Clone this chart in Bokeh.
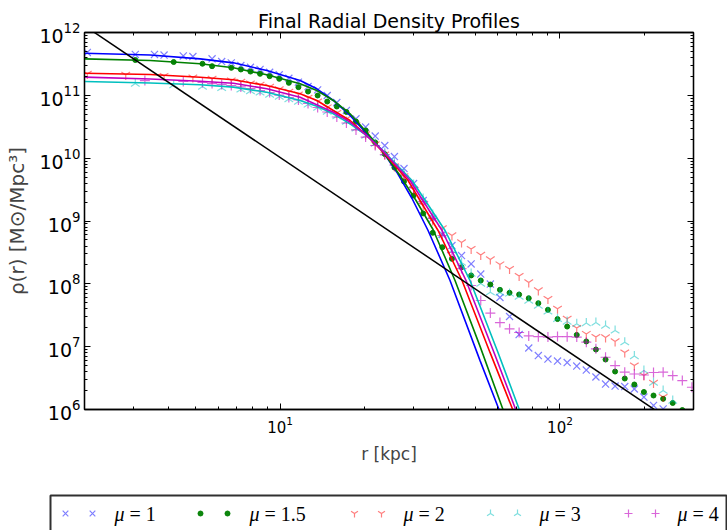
import math
from bokeh.plotting import figure
from bokeh.models import LogAxis, FixedTicker, Range1d
from bokeh.layouts import column
from bokeh.embed import file_html
from bokeh.resources import INLINE
from bokeh.core.properties import value

# ---------------- data ----------------
R_BINS = [2.047, 2.215, 2.397, 2.594, 2.808, 3.038, 3.287, 3.557, 3.849, 4.166,
          4.508, 4.879, 5.279, 5.713, 6.183, 6.691, 7.239, 7.834, 8.478, 9.175,
          9.929, 10.745, 11.627, 12.583, 13.617, 14.736, 15.945, 17.256, 18.67, 20.21,
          21.87, 23.66, 25.61, 27.71, 29.99, 32.45, 35.11, 37.99, 41.11, 44.49,
          48.15, 52.11, 56.39, 61.02, 66.04, 71.46, 77.34, 83.69, 90.57, 98.0,
          106.1, 114.8, 124.2, 134.4, 145.5, 157.4, 170.4, 184.4, 199.5, 215.9,
          233.7, 252.9, 273.6, 296.1]

RHO_MU1 = [4.81e11, None, None, None, None, 4.47e11, None, 4.47e11, 4.38e11, None,
           4.23e11, 4.15e11, None, 3.81e11, 3.45e11, 3.29e11, 2.98e11, 2.80e11, 2.58e11, 2.33e11,
           2.12e11, 1.87e11, 1.62e11, 1.38e11, 1.22e11, 9.94e10, 7.69e10, 5.74e10, 4.23e10, 3.13e10,
           2.25e10, 1.59e10, 1.06e10, 6.85e9, 3.95e9, 2.12e9, 1.10e9, 6.10e8, 4.07e8, 2.82e8,
           2.07e8, 1.43e8, 9.93e7, 6.06e7, 3.02e7, 1.56e7, 9.52e6, 7.23e6, 6.36e6, 5.91e6,
           5.59e6, 4.92e6, 4.25e6, 3.29e6, 2.54e6, 2.36e6, 2.32e6, 2.12e6, 1.58e6, 1.16e6,
           1.02e6, None, None, None]

RHO_MU15 = [None, None, None, None, None, 3.65e11, None, None, None, 3.39e11,
            None, None, 3.18e11, 2.91e11, None, 2.74e11, 2.58e11, 2.39e11, 2.20e11, 2.02e11,
            1.83e11, 1.58e11, 1.35e11, 1.15e11, 9.94e10, 7.97e10, 6.64e10, 5.43e10, 3.83e10, 2.76e10,
            1.78e10, 1.16e10, 7.10e9, 4.25e9, 2.55e9, 1.32e9, 6.49e8, 3.83e8, 2.50e8, 1.84e8,
            1.36e8, 1.13e8, 9.75e7, 8.03e7, 7.20e7, 6.76e7, 5.90e7, 4.92e7, 3.86e7, 2.75e7,
            2.09e7, 1.54e7, 1.21e7, 9.01e6, 6.25e6, 4.02e6, 3.11e6, 2.50e6, 1.90e6, 1.67e6,
            1.48e6, 1.27e6, 9.8e5, None]

RHO_MU2 = [2.19e11, None, None, None, 2.11e11, None, None, None, 2.03e11, None,
           None, 1.92e11, None, 1.82e11, None, 1.72e11, 1.63e11, 1.54e11, 1.46e11, 1.36e11,
           1.24e11, 1.13e11, 1.03e11, 9.07e10, 7.97e10, 6.40e10, 5.23e10, 4.20e10, 3.31e10, 2.38e10,
           1.65e10, 1.14e10, 7.37e9, 5.11e9, 3.17e9, 1.76e9, 1.02e9, 7.60e8, 5.88e8, 4.55e8,
           3.58e8, 2.88e8, 2.44e8, 2.03e8, 1.72e8, 1.33e8, 1.05e8, 7.83e7, 5.73e7, 4.00e7,
           2.78e7, 1.98e7, 1.59e7, 1.42e7, 1.40e7, 1.21e7, 8.07e6, 5.01e6, 3.47e6, 2.64e6,
           1.58e6, None, None, None]

RHO_MU3 = [None, None, None, None, None, 1.54e11, None, None, None, 1.46e11,
           None, None, 1.38e11, None, 1.31e11, None, 1.24e11, 1.17e11, 1.11e11, 1.03e11,
           9.58e10, 8.74e10, 7.97e10, 7.15e10, 6.40e10, 5.53e10, 4.69e10, 3.83e10, 2.97e10, 2.29e10,
           1.71e10, 1.23e10, 8.53e9, 5.70e9, 3.81e9, 2.28e9, 1.27e9, 6.10e8, 3.39e8, 2.18e8,
           1.46e8, 1.01e8, 7.36e7, 7.28e7, 7.02e7, 6.28e7, 5.43e7, 4.52e7, 3.63e7, 2.78e7,
           2.51e7, 2.31e7, 2.38e7, 2.42e7, 2.17e7, 1.81e7, 1.18e7, 7.10e6, 4.17e6, 2.69e6,
           2.00e6, 1.39e6, None, None]

RHO_MU4 = [None, None, None, None, None, None, 1.72e11, None, None, None,
           1.66e11, None, 1.60e11, 1.54e11, 1.49e11, 1.43e11, 1.36e11, 1.28e11, 1.19e11, 1.11e11,
           1.01e11, 9.24e10, 8.43e10, 7.41e10, 6.40e10, 5.43e10, 4.52e10, 3.63e10, 2.81e10, 2.17e10,
           1.59e10, 1.14e10, 7.78e9, 5.20e9, 3.41e9, 2.04e9, 1.10e9, 5.88e8, 3.15e8, 1.75e8,
           9.40e7, 5.43e7, 3.43e7, 2.42e7, 1.92e7, 1.68e7, 1.48e7, 1.44e7, 1.42e7, 1.45e7,
           1.44e7, 1.42e7, 1.18e7, 9.24e6, 6.79e6, 5.01e6, 3.92e6, 3.67e6, 3.54e6, 3.88e6,
           3.92e6, 3.47e6, 2.89e6, 2.26e6]

# fitted profiles
FIT_R_MU1 = [2.0, 3.434, 5.179, 6.81, 8.963, 11.79, 13.53, 15.50, 17.78, 20.40, 23.38, 26.12,
             29.61, 33.78, 40.47, 51.81, 60.54, 69.6]
FIT_RHO_MU1 = [4.68e11, 4.38e11, 3.81e11, 3.29e11, 2.48e11, 1.72e11, 1.27e11, 8.28e10, 4.78e10,
               2.44e10, 1.24e10, 5.98e9, 2.28e9, 7.06e8, 1.13e8, 6.0e6, 1.0e6, 2.15e5]
FIT_R_MU15 = [2.0, 3.434, 5.179, 6.81, 8.963, 11.79, 13.53, 15.50, 17.78, 20.40, 23.38, 26.83,
              30.60, 35.19, 42.17, 51.81, 62.56, 71.9]
FIT_RHO_MU15 = [3.81e11, 3.58e11, 3.18e11, 2.74e11, 2.12e11, 1.53e11, 1.19e11, 8.28e10, 5.08e10,
                2.59e10, 1.24e10, 5.30e9, 2.12e9, 7.32e8, 1.13e8, 1.01e7, 1.0e6, 2.15e5]
FIT_R_MU2 = [2.0, 3.434, 5.179, 6.81, 8.963, 11.79, 13.53, 15.50, 17.78, 20.40, 23.38, 28.65,
             36.68, 44.67, 56.23, 67.77, 77.9]
FIT_RHO_MU2 = [2.25e11, 2.15e11, 1.94e11, 1.77e11, 1.43e11, 1.06e11, 8.28e10, 5.74e10, 3.98e10,
               2.29e10, 1.24e10, 4.41e9, 7.06e8, 1.13e8, 8.1e6, 1.0e6, 2.15e5]
FIT_R_MU3 = [2.0, 3.434, 5.179, 6.81, 8.963, 11.79, 13.53, 15.50, 17.78, 20.40, 23.38, 29.61,
             38.85, 47.71, 60.05, 71.54, 82.3]
FIT_RHO_MU3 = [1.66e11, 1.57e11, 1.47e11, 1.35e11, 1.12e11, 8.28e10, 6.71e10, 5.08e10, 3.52e10,
               2.29e10, 1.30e10, 4.41e9, 7.06e8, 1.13e8, 8.1e6, 1.0e6, 2.15e5]
FIT_R_MU4 = [2.0, 3.434, 5.179, 6.81, 8.963, 11.79, 15.50, 17.78, 20.40, 23.38, 29.13,
             37.90, 46.16, 58.11, 69.46, 79.9]
FIT_RHO_MU4 = [1.95e11, 1.82e11, 1.68e11, 1.56e11, 1.27e11, 9.34e10, 5.39e10, 3.74e10, 2.29e10,
               1.28e10, 4.41e9, 7.06e8, 1.13e8, 8.1e6, 1.0e6, 2.15e5]

# power-law reference line
POWER_R = [2.0, 300.0]
POWER_RHO = [1.28e12, 3.8e5]

MU_LABELS = ["1", "1.5", "2", "3", "4"]
X_TICKS = [10, 100]
Y_TICKS = [1e6, 1e7, 1e8, 1e9, 1e10, 1e11, 1e12]

TITLE = "Final Radial Density Profiles"
X_LABEL = "r [kpc]"
Y_LABEL = "\u03c1(r) [M\u2299/Mpc\u00b3]"

# ---------------- styling ----------------
FONT = "DejaVu Sans"
SERIES = [
    # data, fit_r, fit_rho, color, marker, size, alpha, angle
    (RHO_MU1, FIT_R_MU1, FIT_RHO_MU1, "#0000ff", "x", 10, 0.5, 0.0),
    (RHO_MU15, FIT_R_MU15, FIT_RHO_MU15, "#008000", "circle", 5, 0.95, 0.0),
    (RHO_MU2, FIT_R_MU2, FIT_RHO_MU2, "#ff0000", "y", 10, 0.5, 0.0),
    (RHO_MU3, FIT_R_MU3, FIT_RHO_MU3, "#00bfbf", "y", 10, 0.5, math.pi),
    (RHO_MU4, FIT_R_MU4, FIT_RHO_MU4, "#bf00bf", "cross", 10, 0.6, 0.0),
]

H_MAIN = 488
p = figure(width=727, height=H_MAIN, x_axis_type="log", y_axis_type="log",
           x_range=Range1d(2, 300), y_range=Range1d(1e6, 1e12),
           output_backend="svg", toolbar_location=None, frame_align=False,
           title=TITLE,
           min_border_left=84, min_border_right=34, min_border_top=32, min_border_bottom=79)
p.title.align = "center"
p.title.text_font = FONT
p.title.text_font_size = "19px"
p.title.text_font_style = "normal"
p.title.text_color = "black"
p.title.standoff = 2
p.grid.visible = False
p.outline_line_color = "black"
p.outline_line_width = 1.3

xb = p.below[0]
yl = p.left[0]
xt = LogAxis()
yr = LogAxis()
p.add_layout(xt, "above")
p.add_layout(yr, "right")

x_minor = [m * 10 ** e for e in range(0, 3) for m in range(2, 10)]
y_minor = [m * 10 ** e for e in range(6, 12) for m in range(2, 10)]
for ax in (xb, xt):
    ax.ticker = FixedTicker(ticks=X_TICKS, minor_ticks=x_minor)
for ax in (yl, yr):
    ax.ticker = FixedTicker(ticks=Y_TICKS, minor_ticks=y_minor)
for ax in (xb, xt, yl, yr):
    ax.major_tick_in = 6
    ax.major_tick_out = 0
    ax.minor_tick_in = 3
    ax.minor_tick_out = 0
    ax.axis_line_color = "black"
    ax.axis_line_width = 1.3
    ax.major_tick_line_color = "black"
    ax.minor_tick_line_color = "black"
    ax.major_label_text_color = "black"
    ax.major_label_text_font = FONT
for ax in (xt, yr):
    ax.major_label_text_font_size = "2px"
    ax.major_label_text_alpha = 0.0
    ax.major_label_standoff = 0

xb.major_label_text_font_size = "15px"
xb.major_label_standoff = 6
xb.axis_label = X_LABEL
xb.axis_label_text_font = FONT
xb.axis_label_text_font_size = "17px"
xb.axis_label_text_font_style = "normal"
xb.axis_label_standoff = 8

yl.major_label_text_font_size = "19px"
yl.major_label_standoff = 4
yl.axis_label = Y_LABEL
yl.axis_label_text_font = FONT
yl.axis_label_text_font_size = "20px"
yl.axis_label_text_font_style = "normal"
yl.axis_label_standoff = 7

# data markers
for rho, fr, frho, color, marker, size, alpha, angle in SERIES:
    xs = [r for r, v in zip(R_BINS, rho) if v is not None]
    ys = [v for v in rho if v is not None]
    if marker == "circle":
        p.scatter(xs, ys, marker="circle", size=size, fill_color=color, line_color=color,
                  fill_alpha=alpha, line_alpha=alpha)
    else:
        p.scatter(xs, ys, marker=marker, size=size, line_color=color, line_alpha=alpha,
                  fill_color=None, line_width=1.2, angle=angle)

# fitted profiles
for rho, fr, frho, color, marker, size, alpha, angle in SERIES:
    p.line(fr, frho, line_color=color, line_width=1.6)

# power law
p.line(POWER_R, POWER_RHO, line_color="black", line_width=1.5)

# ---------------- legend panel ----------------
H_LEG = 530 - H_MAIN
leg = figure(width=727, height=H_LEG, x_range=Range1d(0, 727), y_range=Range1d(0, H_LEG),
             output_backend="svg", toolbar_location=None, frame_align=False,
             x_axis_location=None, y_axis_location=None,
             min_border_left=0, min_border_right=0, min_border_top=0, min_border_bottom=0)
leg.title.visible = False
leg.grid.visible = False
leg.outline_line_color = None
leg.quad(left=50, right=726, top=H_LEG - 7, bottom=-20, fill_color=None,
         line_color="#303030", line_width=2)

ENTRY_X = [65, 200, 354, 490, 628]
LEG_Y = H_LEG - 25
for i, (rho, fr, frho, color, marker, size, alpha, angle) in enumerate(SERIES):
    x0 = ENTRY_X[i]
    mx = [x0, x0 + 27]
    my = [LEG_Y, LEG_Y]
    if marker == "circle":
        leg.scatter(mx, my, marker="circle", size=size, fill_color=color, line_color=color,
                    fill_alpha=alpha, line_alpha=alpha)
    else:
        leg.scatter(mx, my, marker=marker, size=size - 2, line_color=color, line_alpha=alpha,
                    fill_color=None, line_width=1.2, angle=angle)
    tx = x0 + 49
    leg.text([tx], [LEG_Y], text=["\u03bc"], text_font=value("Liberation Serif"),
             text_font_style="italic", text_font_size="20px", text_baseline="middle",
             text_align="left", text_color="black")
    leg.text([tx + 15], [LEG_Y], text=["= " + MU_LABELS[i]], text_font=value("Liberation Serif"),
             text_font_size="20px", text_baseline="middle", text_align="left",
             text_color="black")

layout = column(p, leg)
open("out.html", "w").write(file_html(layout, INLINE))
